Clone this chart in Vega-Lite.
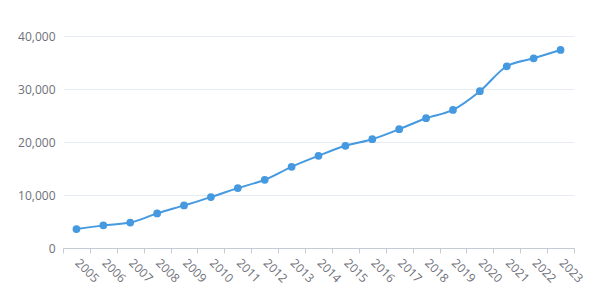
{
  "$schema": "https://vega.github.io/schema/vega-lite/v6.json",
  "autosize": "none",
  "width": 511,
  "height": 212,
  "padding": {"left": 63, "top": 36, "right": 31, "bottom": 57},
  "background": "white",
  "data": {
    "values": [
      {"year": "2005", "value": 3580},
      {"year": "2006", "value": 4270},
      {"year": "2007", "value": 4800},
      {"year": "2008", "value": 6530},
      {"year": "2009", "value": 8040},
      {"year": "2010", "value": 9600},
      {"year": "2011", "value": 11300},
      {"year": "2012", "value": 12870},
      {"year": "2013", "value": 15320},
      {"year": "2014", "value": 17390},
      {"year": "2015", "value": 19280},
      {"year": "2016", "value": 20530},
      {"year": "2017", "value": 22420},
      {"year": "2018", "value": 24490},
      {"year": "2019", "value": 26060},
      {"year": "2020", "value": 29580},
      {"year": "2021", "value": 34290},
      {"year": "2022", "value": 35790},
      {"year": "2023", "value": 37360}
    ]
  },
  "config": {
    "view": {"stroke": null},
    "axis": {"labelFont": "Open Sans", "labelFontSize": 12, "labelColor": "#6E7079", "gridColor": "#E6EAF2", "title": null}
  },
  "encoding": {
    "x": {
      "field": "year", "type": "ordinal",
      "scale": {"type": "band", "paddingInner": 0, "paddingOuter": 0},
      "bandPosition": 0.5,
      "axis": {"labelAngle": 45, "labelAlign": "left", "labelBaseline": "top", "labelPadding": 4, "labelOffset": 4, "tickBand": "extent", "tickSize": 5, "tickColor": "#C4CAD6", "domainColor": "#C4CAD6", "grid": false}
    },
    "y": {
      "field": "value", "type": "quantitative",
      "scale": {"domain": [0, 40000]},
      "axis": {"values": [0, 10000, 20000, 30000, 40000], "format": ",d", "domain": false, "ticks": false, "labelPadding": 8, "gridColor": "#E6EAF2"}
    }
  },
  "layer": [
    {"mark": {"type": "line", "interpolate": "monotone", "color": "#4599E0", "strokeWidth": 2}},
    {"mark": {"type": "point", "filled": true, "opacity": 1, "color": "#4599E0", "size": 60}}
  ]
}
